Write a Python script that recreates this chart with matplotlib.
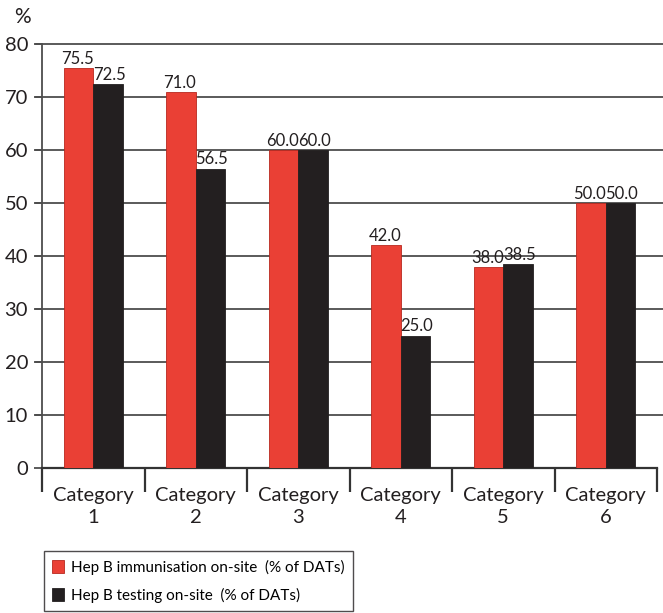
import numpy as np
import matplotlib.pyplot as plt

categories = ['Category\n1', 'Category\n2', 'Category\n3', 'Category\n4', 'Category\n5', 'Category\n6']
immunisation = [75.5, 71.0, 60.0, 42.0, 38.0, 50.0]
testing = [72.5, 56.5, 60.0, 25.0, 38.5, 50.0]
yticks = [0, 10, 20, 30, 40, 50, 60, 70, 80]

plt.rcParams['font.family'] = ['Lato', 'DejaVu Sans']

red = '#EA4035'
black = '#231F20'
grid = '#4d4d4d'

fig = plt.figure(figsize=(6.63, 6.13), dpi=100)
ax = fig.add_axes([42/663, (613-468)/613, (657-42)/663, (468-44)/613])

x = np.arange(len(categories))
w = 0.29
ax.bar(x - w/2, immunisation, w, color=red, edgecolor='#b8281f', linewidth=0.6, zorder=3,
       label='Hep B immunisation on-site  (% of DATs)')
ax.bar(x + w/2, testing, w, color=black, edgecolor=black, linewidth=0.6, zorder=3,
       label='Hep B testing on-site  (% of DATs)')

for xi, v in zip(x - w/2, immunisation):
    ax.text(xi - 0.012, v + 0.2, '%.1f' % v, ha='center', va='bottom', fontsize=12, color=black)
for xi, v in zip(x + w/2, testing):
    ax.text(xi + 0.012, v + 0.2, '%.1f' % v, ha='center', va='bottom', fontsize=12, color=black)

ax.set_xlim(-0.5, len(categories) - 0.5)
ax.set_ylim(0, 80)

# horizontal rules, drawn a little past the left axis like tick marks
for t in yticks[1:]:
    ax.plot([-0.56, 6.1], [t, t], color=grid, lw=1.3, zorder=1, clip_on=False)
ax.set_yticks(yticks)
ax.set_yticklabels([str(t) for t in yticks], fontsize=14.5, color=black)
ax.tick_params(axis='y', length=6, width=1.3, color=grid, pad=4)

# category names as two-line labels under each group
ax.set_xticks(x)
ax.set_xticklabels([])
for xi, name in zip(x, categories):
    ax.text(xi, -0.045, name, transform=ax.get_xaxis_transform(), ha='center', va='top',
            fontsize=14.5, color=black, linespacing=1.35)
ax.set_xticks(np.arange(len(categories) + 1) - 0.5, minor=True)
ax.tick_params(axis='x', which='major', length=0)
ax.tick_params(axis='x', which='minor', length=17, width=1.6, color='#333333')

for s in ['top', 'right']:
    ax.spines[s].set_visible(False)
ax.spines['left'].set_color(grid)
ax.spines['left'].set_linewidth(1.3)
ax.spines['bottom'].set_color('#333333')
ax.spines['bottom'].set_linewidth(1.6)

fig.text(22/663, 1 - 17/613, '%', fontsize=15, ha='center', va='center', color=black)

leg = ax.legend(loc='upper left', bbox_to_anchor=(0.003, -0.196), frameon=True, fancybox=False,
                fontsize=11, handlelength=0.75, handleheight=1.0, handletextpad=0.5,
                labelspacing=0.85, borderpad=0.55, borderaxespad=0)
leg.get_frame().set_edgecolor(black)
leg.get_frame().set_linewidth(1.0)

fig.savefig('out.png', dpi=100)
